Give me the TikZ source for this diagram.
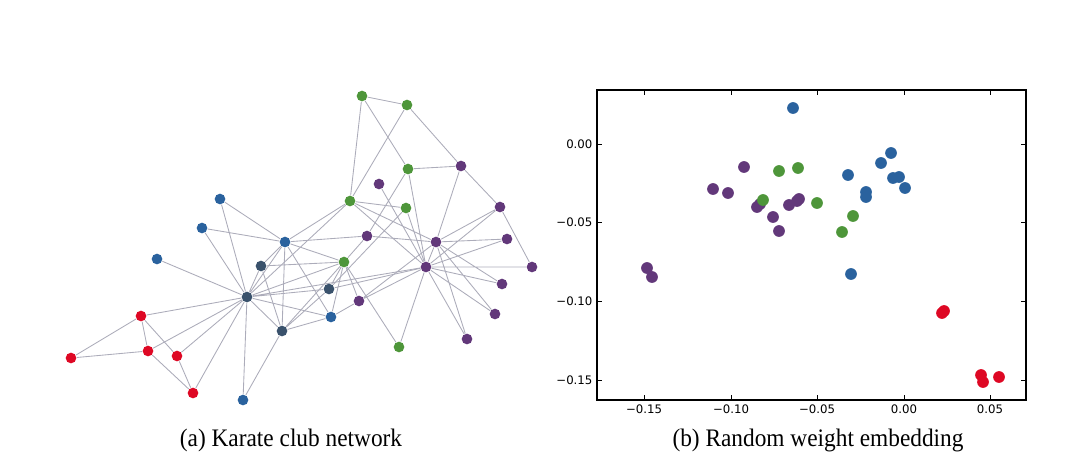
\documentclass[tikz,border=0pt]{standalone}
\usepackage{fontspec}
\setmainfont{Liberation Serif}
\newfontfamily\tickfont{DejaVu Sans}
\pgfdeclarelayer{background}
\pgfsetlayers{background,main}

\definecolor{kblue}{RGB}{42,98,158}
\definecolor{khub}{RGB}{58,82,108}
\definecolor{kred}{RGB}{222,8,36}
\definecolor{kgreen}{RGB}{78,150,58}
\definecolor{kpurple}{RGB}{98,56,122}
\definecolor{kedge}{RGB}{172,172,186}

\tikzset{every picture/.style={line width=0.75pt},
  vtx/.style={circle,inner sep=0pt,minimum size=8pt,fill=#1},
  sdot/.style={circle,inner sep=0pt,minimum size=8.8pt,fill=#1},
  edge/.style={draw=kedge,line width=0.65pt},
  ticklab/.style={font=\tickfont\fontsize{8.8}{10}\selectfont,inner sep=1pt},
  caption/.style={font=\fontsize{17.5}{20}\selectfont,inner sep=0pt,yscale=1.08}}

\begin{document}
\begin{tikzpicture}[x=0.75pt,y=0.75pt,yscale=-1,xscale=1]
	\useasboundingbox (0,0) rectangle (1080,469);

	% Karate club: blue group
	\node[vtx=kblue] (b1) at (220,199) {};
	\node[vtx=kblue] (b2) at (202,228) {};
	\node[vtx=kblue] (b3) at (157,259) {};
	\node[vtx=khub] (b4) at (247,297) {};
	\node[vtx=kblue] (b5) at (285,242) {};
	\node[vtx=khub] (b6) at (261,266) {};
	\node[vtx=khub] (b7) at (329,289) {};
	\node[vtx=kblue] (b8) at (331,317) {};
	\node[vtx=khub] (b9) at (282,331) {};
	\node[vtx=kblue] (b10) at (243,400) {};
	% red group
	\node[vtx=kred] (r1) at (141,316) {};
	\node[vtx=kred] (r2) at (71,358) {};
	\node[vtx=kred] (r3) at (148,351) {};
	\node[vtx=kred] (r4) at (177,356) {};
	\node[vtx=kred] (r5) at (193,393) {};
	% green group
	\node[vtx=kgreen] (g1) at (362,96) {};
	\node[vtx=kgreen] (g2) at (407,105) {};
	\node[vtx=kgreen] (g3) at (408,169) {};
	\node[vtx=kgreen] (g4) at (350,201) {};
	\node[vtx=kgreen] (g5) at (406,208) {};
	\node[vtx=kgreen] (g6) at (344,262) {};
	\node[vtx=kgreen] (g7) at (399,347) {};
	% purple group
	\node[vtx=kpurple] (p1) at (379,184) {};
	\node[vtx=kpurple] (p2) at (461,166) {};
	\node[vtx=kpurple] (p3) at (500,207) {};
	\node[vtx=kpurple] (p4) at (367,236) {};
	\node[vtx=kpurple] (p5) at (436,242) {};
	\node[vtx=kpurple] (p6) at (507,239) {};
	\node[vtx=kpurple] (p7) at (426,267) {};
	\node[vtx=kpurple] (p8) at (532,267) {};
	\node[vtx=kpurple] (p9) at (502,284) {};
	\node[vtx=kpurple] (p10) at (359,301) {};
	\node[vtx=kpurple] (p11) at (495,314) {};
	\node[vtx=kpurple] (p12) at (467,339) {};

	% Edges
	\begin{pgfonlayer}{background}
	\draw[edge] (b1)--(b5) (b1)--(b4) (b2)--(b5) (b2)--(b4) (b3)--(b4)
		(b4)--(r1) (b4)--(r3) (b4)--(r4) (b4)--(r5) (b4)--(b10) (b4)--(b9)
		(b4)--(b6) (b4)--(b5) (b4)--(b7) (b4)--(b8) (b4)--(g6) (b4)--(p7) (b4)--(g4);
	\draw[edge] (r1)--(r2) (r1)--(r3) (r1)--(r4) (r2)--(r3) (r3)--(r5) (r4)--(r5);
	\draw[edge] (b5)--(b6) (b5)--(b9) (b5)--(g6) (b5)--(b8) (b5)--(g4) (b5)--(p4)
		(b6)--(b9) (b6)--(g6) (b7)--(g6) (b7)--(p7) (b7)--(b9)
		(b8)--(g6) (b8)--(p10) (b8)--(b9) (b9)--(b10) (b9)--(g6);
	\draw[edge] (g1)--(g2) (g1)--(g4) (g1)--(g3) (g2)--(g4) (g2)--(p2)
		(g3)--(p2) (g3)--(p7) (g3)--(p4) (p2)--(p3) (p2)--(p5)
		(g4)--(g5) (g4)--(p5) (g4)--(p7) (p1)--(p7) (g5)--(p7) (g5)--(b7);
	\draw[edge] (p3)--(p5) (p3)--(p7) (p3)--(p8) (p4)--(p5) (p4)--(g6)
		(p5)--(p6) (p5)--(p7) (p5)--(p9) (p5)--(p11) (p5)--(p12) (p6)--(p7)
		(p7)--(p8) (p7)--(p9) (p7)--(p11) (p7)--(p12) (p7)--(g7) (p7)--(p10)
		(g6)--(g7) (g6)--(p10) (p10)--(p5);
	\end{pgfonlayer}

	% Axes box and ticks
	\draw[line width=0.8pt] (597,90) rectangle (1026,400);
	\foreach \tx in {644,731,817,904,990} {
		\draw[line width=0.5pt] (\tx,400) -- (\tx,395);
		\draw[line width=0.5pt] (\tx,90) -- (\tx,95);
	}
	\foreach \ty in {144,222,301,380} {
		\draw[line width=0.5pt] (597,\ty) -- (602,\ty);
		\draw[line width=0.5pt] (1026,\ty) -- (1021,\ty);
	}
	% Tick labels
	\node[ticklab,anchor=north] (xa) at (644,403) {−0.15};
	\node[ticklab,anchor=north] (xb) at (731,403) {−0.10};
	\node[ticklab,anchor=north] (xc) at (817,403) {−0.05};
	\node[ticklab,anchor=north] (xd) at (904,403) {0.00};
	\node[ticklab,anchor=north] (xe) at (990,403) {0.05};
	\node[ticklab,anchor=east] (ya) at (594,144) {0.00};
	\node[ticklab,anchor=east] (yb) at (594,222) {−0.05};
	\node[ticklab,anchor=east] (yc) at (594,301) {−0.10};
	\node[ticklab,anchor=east] (yd) at (594,380) {−0.15};

	% Embedding points
	\node[sdot=kpurple] (e1) at (744,167) {};
	\node[sdot=kpurple] (e2) at (713,189) {};
	\node[sdot=kpurple] (e3) at (728,193) {};
	\node[sdot=kpurple] (e4) at (757,207) {};
	\node[sdot=kpurple] (e5) at (760,204) {};
	\node[sdot=kpurple] (e6) at (789,205) {};
	\node[sdot=kpurple] (e7) at (797,201) {};
	\node[sdot=kpurple] (e8) at (799,199) {};
	\node[sdot=kpurple] (e9) at (773,217) {};
	\node[sdot=kpurple] (e10) at (779,231) {};
	\node[sdot=kpurple] (e11) at (647,268) {};
	\node[sdot=kpurple] (e12) at (652,277) {};
	\node[sdot=kgreen] (e13) at (779,171) {};
	\node[sdot=kgreen] (e14) at (798,168) {};
	\node[sdot=kgreen] (e15) at (763,200) {};
	\node[sdot=kgreen] (e16) at (817,203) {};
	\node[sdot=kgreen] (e17) at (853,216) {};
	\node[sdot=kgreen] (e18) at (842,232) {};
	\node[sdot=kblue] (e19) at (793,108) {};
	\node[sdot=kblue] (e20) at (848,175) {};
	\node[sdot=kblue] (e21) at (881,163) {};
	\node[sdot=kblue] (e22) at (891,153) {};
	\node[sdot=kblue] (e23) at (893,178) {};
	\node[sdot=kblue] (e24) at (899,177) {};
	\node[sdot=kblue] (e25) at (905,188) {};
	\node[sdot=kblue] (e26) at (866,192) {};
	\node[sdot=kblue] (e27) at (866,197) {};
	\node[sdot=kblue] (e28) at (851,274) {};
	\node[sdot=kred] (e29) at (942,313) {};
	\node[sdot=kred] (e30) at (944,311) {};
	\node[sdot=kred] (e31) at (981,375) {};
	\node[sdot=kred] (e32) at (983,382) {};
	\node[sdot=kred] (e33) at (999,377) {};

	% Captions
	\node[caption] (capa) at (291,440) {(a) Karate club network};
	\node[caption] (capb) at (818,440) {(b) Random weight embedding};

\end{tikzpicture}
\end{document}
